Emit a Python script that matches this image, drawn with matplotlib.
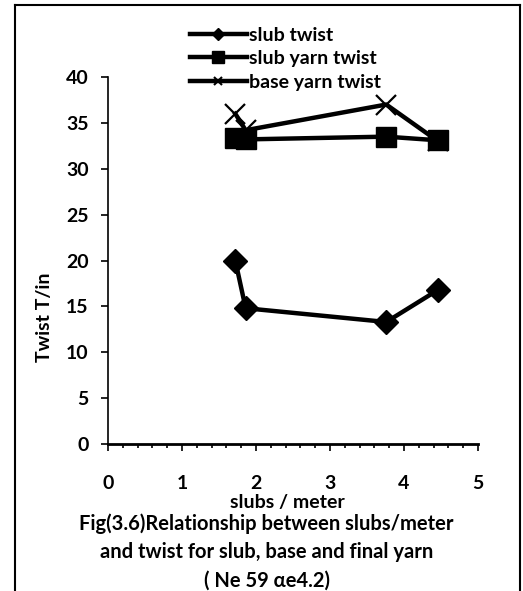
import matplotlib.pyplot as plt
from matplotlib.lines import Line2D
from matplotlib.ticker import MultipleLocator

plt.rcParams['font.family'] = ['Lato', 'DejaVu Sans']
plt.rcParams['font.weight'] = 'bold'

# slubs per meter and twist (T/in) for each yarn component
slubs_per_meter = [1.72, 1.86, 3.76, 4.46]
slub_twist = [20.0, 14.8, 13.3, 16.8]
slub_yarn_twist = [33.3, 33.2, 33.5, 33.1]
base_yarn_twist = [36.0, 34.2, 37.0, 33.0]

x_ticks = [0, 1, 2, 3, 4, 5]
y_ticks = [0, 5, 10, 15, 20, 25, 30, 35, 40]

FS = 14

fig = plt.figure(figsize=(5.23, 5.91), dpi=100)
ax = fig.add_axes([0.2065, 0.2487, 0.7075, 0.621])

ax.plot(slubs_per_meter, slub_twist, color='black', lw=3.2,
        marker='D', ms=12, label='slub twist')
ax.plot(slubs_per_meter, slub_yarn_twist, color='black', lw=3.2,
        marker='s', ms=14, label='slub yarn twist')
ax.plot(slubs_per_meter, base_yarn_twist, color='black', lw=3.2,
        marker='x', ms=15, mew=1.6, label='base yarn twist')

ax.set_xlim(0, 5)
ax.set_ylim(0, 40)
ax.set_xticks(x_ticks)
ax.set_yticks(y_ticks)
ax.xaxis.set_minor_locator(MultipleLocator(0.2))
ax.tick_params(axis='both', labelsize=FS, direction='out', width=1.2)
ax.tick_params(axis='x', which='major', length=5, pad=17)
ax.tick_params(axis='x', which='minor', length=3, width=1.2)
ax.tick_params(axis='y', length=5, pad=9)
for side in ('top', 'right'):
    ax.spines[side].set_visible(False)
ax.spines['left'].set_linewidth(1.2)
ax.spines['bottom'].set_linewidth(2.0)

ax.set_ylabel('Twist T/in', fontsize=FS, fontweight='bold')
ax.yaxis.set_label_coords(-0.149, 0.345)
ax.set_xlabel('slubs / meter', fontsize=FS, fontweight='bold', labelpad=0)
ax.xaxis.set_label_coords(0.486, -0.135)

handles = [
    Line2D([], [], color='black', lw=3.2, marker='D', ms=6),
    Line2D([], [], color='black', lw=3.2, marker='s', ms=9),
    Line2D([], [], color='black', lw=3.2, marker='x', ms=6, mew=1.5),
]
fig.legend(handles, ['slub twist', 'slub yarn twist', 'base yarn twist'],
           loc='upper left', bbox_to_anchor=(0.349, 0.968), frameon=False,
           fontsize=FS, handlelength=2.9, handletextpad=0.1,
           labelspacing=0.33, borderaxespad=0)

caption = ('Fig(3.6)Relationship between slubs/meter\n'
           'and twist for slub, base and final yarn\n'
           '( Ne 59 \u03b1e4.2)')
fig.text(0.51, 0.066, caption, ha='center', va='center', fontsize=14.5,
         fontweight='bold', linespacing=1.5)

# outer frame around the figure
frame_kw = dict(color='black', lw=1.5, transform=fig.transFigure)
fig.add_artist(Line2D([0.029, 0.994], [0.991, 0.991], **frame_kw))
fig.add_artist(Line2D([0.029, 0.029], [0.0, 0.991], **frame_kw))
fig.add_artist(Line2D([0.994, 0.994], [0.0, 0.991], **frame_kw))

fig.savefig('out.png', dpi=100)
